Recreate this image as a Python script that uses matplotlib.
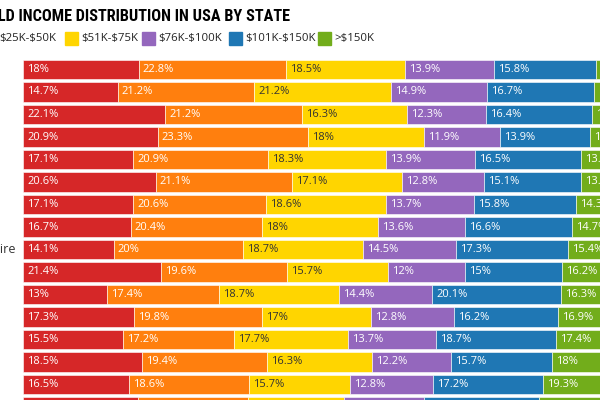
import matplotlib
matplotlib.use("Agg")
import matplotlib.pyplot as plt
from matplotlib.patches import Rectangle
import numpy as np

# Data (shares of households, %)
states = ["Montana", "Kansas", "Missouri", "Idaho", "Iowa", "Ohio",
          "Nebraska", "Wyoming", "New Hampshire", "Texas", "Utah",
          "Delaware", "Oregon", "Illinois", "Colorado", "Alaska"]
brackets = ["<$25K", "$25K-$50K", "$51K-$75K", "$76K-$100K",
            "$101K-$150K", ">$150K"]
under_25k = [18, 14.7, 22.1, 20.9, 17.1, 20.6, 17.1, 16.7, 14.1, 21.4,
             13, 17.3, 15.5, 18.5, 16.5, 17.8]
k25_50 = [22.8, 21.2, 21.2, 23.3, 20.9, 21.1, 20.6, 20.4, 20, 19.6,
          17.4, 19.8, 17.2, 19.4, 18.6, 17.2]
k51_75 = [18.5, 21.2, 16.3, 18, 18.3, 17.1, 18.6, 18, 18.7, 15.7,
          18.7, 17, 17.7, 16.3, 15.7, 14.8]
k76_100 = [13.9, 14.9, 12.3, 11.9, 13.9, 12.8, 13.7, 13.6, 14.5, 12,
           14.4, 12.8, 13.7, 12.2, 12.8, 12.4]
k101_150 = [15.8, 16.7, 16.4, 13.9, 16.5, 15.1, 15.8, 16.6, 17.3, 15,
            20.1, 16.2, 18.7, 15.7, 17.2, 17.9]
over_150k = [11, 11.3, 11.7, 12, 13.3, 13.3, 14.3, 14.7, 15.4, 16.2,
             16.3, 16.9, 17.4, 18, 19.3, 19.9]

colors = ["#D62728", "#FF7F0E", "#FFD500", "#9467BD", "#1F77B4", "#72AD1B"]
label_colors = ["white", "white", "#333333", "white", "white", "white"]
body_font = ["Open Sans", "DejaVu Sans"]
title_font = ["Liberation Sans Narrow", "Roboto Condensed", "Lato",
              "DejaVu Sans"]

W, H, DPI = 600, 400, 100
fig = plt.figure(figsize=(W / DPI, H / DPI), dpi=DPI)
fig.patch.set_facecolor("white")

# The picture is a crop: axes run past the right and bottom edges
left_px, full_px = 23, 644
pitch, top_px = 22.5, 58.25
n = len(states)
ax = fig.add_axes([left_px / W, (H - top_px - n * pitch) / H,
                   full_px / W, n * pitch / H])
ax.set_xlim(0, 100)
ax.set_ylim(n - 0.5, -0.5)
ax.axis("off")

series = [under_25k, k25_50, k51_75, k76_100, k101_150, over_150k]
y = np.arange(n)
base = np.zeros(n)
for vals, col, tcol in zip(series, colors, label_colors):
    vals = np.array(vals, dtype=float)
    ax.barh(y, vals, left=base, height=0.845, color=col,
            edgecolor="white", linewidth=0.4, clip_on=False)
    for yi, (b, v) in enumerate(zip(base, vals)):
        ax.annotate(f"{v:g}%", (b, yi), xytext=(4, 0),
                    textcoords="offset pixels", ha="left", va="center",
                    fontsize=8, color=tcol, family=body_font,
                    annotation_clip=False)
    base += vals

# State names, left aligned well off the left edge
for yi, name in enumerate(states):
    ax.annotate(name, (0, yi), xytext=(-79 - left_px, 0),
                textcoords="offset pixels", ha="left", va="center",
                fontsize=9, color="#333333", family=body_font,
                annotation_clip=False)

# Title (left part cut off by the crop)
fig.text(290 / W, 1 - 21 / H, "HOUSEHOLD INCOME DISTRIBUTION IN USA BY STATE",
         ha="right", va="baseline", fontsize=11.7, fontweight="heavy",
         family=title_font, color="black")

# Legend drawn by hand
legend_x = [-95, -17, 65, 142, 229, 318]
for x, col, lab in zip(legend_x, colors, brackets):
    fig.patches.append(Rectangle((x / W, 1 - 45 / H), 13 / W, 13 / H,
                                 transform=fig.transFigure, color=col,
                                 figure=fig))
    fig.text((x + 16) / W, 1 - 39 / H, lab, ha="left", va="center",
             fontsize=8.2, color="#222222", family=body_font,
             parse_math=False)

fig.savefig("out.png", dpi=DPI)
